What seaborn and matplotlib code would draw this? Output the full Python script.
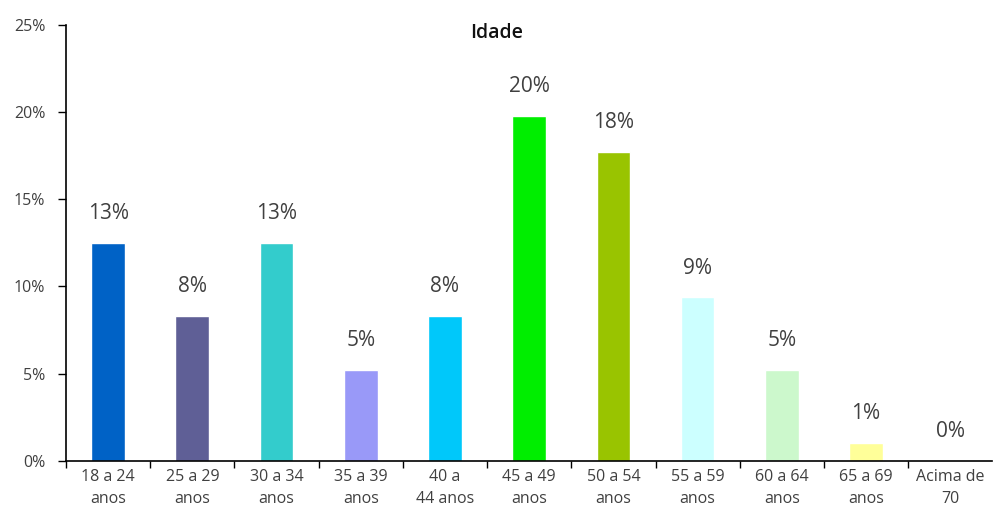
import seaborn as sns
import matplotlib.pyplot as plt
import pandas as pd

# faixas etarias e percentuais
faixas = ['18 a 24\nanos', '25 a 29\nanos', '30 a 34\nanos', '35 a 39\nanos', '40 a\n44 anos',
          '45 a 49\nanos', '50 a 54\nanos', '55 a 59\nanos', '60 a 64\nanos', '65 a 69\nanos',
          'Acima de\n70']
valores = [12.5, 8.33, 12.5, 5.21, 8.33, 19.79, 17.71, 9.38, 5.21, 1.04, 0.0]
rotulos = ['13%', '8%', '13%', '5%', '8%', '20%', '18%', '9%', '5%', '1%', '0%']
cores = ['#0062C6', '#5F5F96', '#33CCCC', '#9999F8', '#00C8FA', '#00EE00', '#99C400',
         '#CCFFFF', '#CCF8CC', '#FFFF99', '#FFFFFF']
yticks = [0, 5, 10, 15, 20, 25]

df = pd.DataFrame({'faixa': faixas, 'valor': valores})

sns.set_style('white')
plt.rcParams['font.family'] = ['Open Sans', 'DejaVu Sans']

fig = plt.figure(figsize=(9.94, 5.28), dpi=100)
ax = fig.add_axes([0.0664, 0.127, 0.932, 0.826])

sns.barplot(data=df, x='faixa', y='valor', hue='faixa', palette=cores, legend=False,
            width=0.4, ax=ax, saturation=1)

for i, (v, r) in enumerate(zip(valores, rotulos)):
    ax.annotate(r, (i, v), xytext=(0, 21), textcoords='offset points',
                ha='center', va='center', fontsize=15, color='#404040')

ax.set_xlim(-0.5, len(faixas) - 0.5)
ax.set_ylim(0, 25)
ax.set_yticks(yticks)
ax.set_yticklabels([f'{t}%' for t in yticks], fontsize=11.5, color='#404040')
ax.set_xticks([i - 0.5 for i in range(len(faixas))])
ax.set_xticklabels([])
ax.set_xticks(range(len(faixas)), minor=True)
ax.set_xticklabels(faixas, minor=True, fontsize=11.5, color='#404040', linespacing=1.45)
ax.tick_params(axis='x', which='major', direction='out', length=5, width=1, color='black', bottom=True)
ax.tick_params(axis='x', which='minor', length=0, pad=6)
ax.tick_params(axis='y', direction='out', length=6, width=1, color='black', left=True, pad=9)
ax.set_xlabel('')
ax.set_ylabel('')

for s in ['top', 'right']:
    ax.spines[s].set_visible(False)
for s in ['left', 'bottom']:
    ax.spines[s].set_color('black')
    ax.spines[s].set_linewidth(1.2)

fig.text(0.5, 0.938, 'Idade', ha='center', va='center', fontsize=14, fontweight='semibold', color='#111111')

fig.savefig('out.png', dpi=100)
